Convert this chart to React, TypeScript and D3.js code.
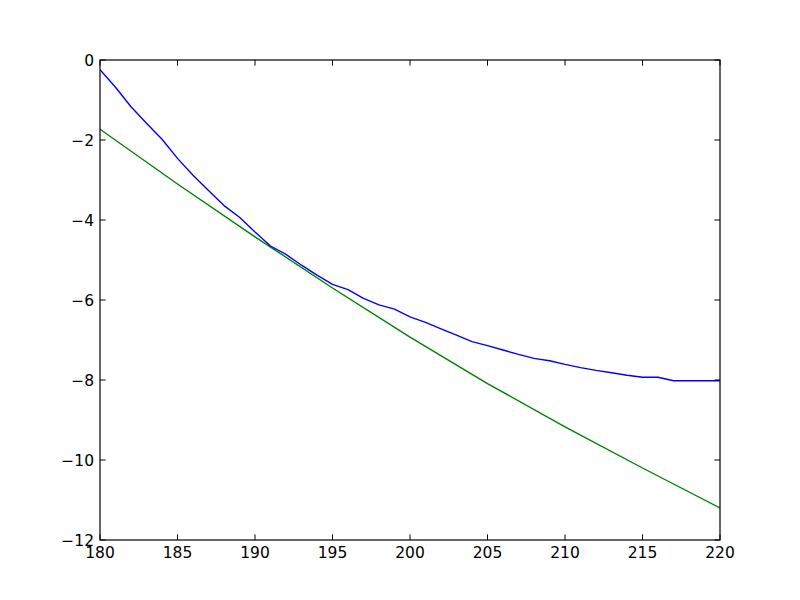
import React from "react";
import * as d3 from "d3";

const xValues = [180,181,182,183,184,185,186,187,188,189,190,191,192,193,194,195,196,197,198,199,200,201,202,203,204,205,206,207,208,209,210,211,212,213,214,215,216,217,218,219,220];
const blueValues = [-0.24,-0.68,-1.17,-1.58,-1.98,-2.46,-2.88,-3.26,-3.64,-3.93,-4.3,-4.65,-4.86,-5.13,-5.38,-5.61,-5.74,-5.96,-6.12,-6.23,-6.42,-6.56,-6.72,-6.88,-7.04,-7.14,-7.25,-7.36,-7.46,-7.52,-7.61,-7.69,-7.76,-7.82,-7.88,-7.93,-7.93,-8.02,-8.02,-8.02,-8.02];
const greenX = [180, 185, 190, 195, 200, 205, 210, 215, 220];
const greenValues = [-1.73, -3.1, -4.42, -5.7, -6.93, -8.09, -9.17, -10.2, -11.2];
const xTicks = [180,185,190,195,200,205,210,215,220];
const yTicks = [0,-2,-4,-6,-8,-10,-12];

export default function App() {
  const W = 800, H = 600;
  const left = 100, right = 720, top = 60, bottom = 540;
  const x = d3.scaleLinear().domain([180, 220]).range([left, right]);
  const y = d3.scaleLinear().domain([-12, 0]).range([bottom, top]);
  const line = d3.line<[number, number]>().x(d => x(d[0])).y(d => y(d[1]));
  const blue = line(xValues.map((v, i) => [v, blueValues[i]] as [number, number])) || "";
  const green = line(greenX.map((v, i) => [v, greenValues[i]] as [number, number])) || "";
  const fmt = (v: number) => (v < 0 ? "\u2212" + Math.abs(v) : String(v));
  const tl = 5.6;
  const font = "'DejaVu Sans', sans-serif";
  return (
    <svg width={W} height={H} style={{ position: "absolute", left: 0, top: 0, background: "#fff" }}>
      <rect x={0} y={0} width={W} height={H} fill="#fff" />
      <defs>
        <clipPath id="clip"><rect x={left} y={top} width={right - left} height={bottom - top} /></clipPath>
      </defs>
      <g clipPath="url(#clip)">
        <path d={green} fill="none" stroke="#008000" strokeWidth={1.4} strokeLinejoin="round" />
        <path d={blue} fill="none" stroke="#0000ff" strokeWidth={1.4} strokeLinejoin="round" />
      </g>
      {xTicks.map(t => (
        <g key={"x" + t}>
          <line x1={x(t)} x2={x(t)} y1={bottom} y2={bottom - tl} stroke="#000" strokeWidth={1} />
          <line x1={x(t)} x2={x(t)} y1={top} y2={top + tl} stroke="#000" strokeWidth={1} />
          <text x={x(t)} y={bottom + 6} dy="0.8em" textAnchor="middle" fontFamily={font} fontSize={15.5}>{fmt(t)}</text>
        </g>
      ))}
      {yTicks.map(t => (
        <g key={"y" + t}>
          <line x1={left} x2={left + tl} y1={y(t)} y2={y(t)} stroke="#000" strokeWidth={1} />
          <line x1={right} x2={right - tl} y1={y(t)} y2={y(t)} stroke="#000" strokeWidth={1} />
          <text x={left - 6} y={y(t)} dy="0.36em" textAnchor="end" fontFamily={font} fontSize={15.5}>{fmt(t)}</text>
        </g>
      ))}
      <rect x={left} y={top} width={right - left} height={bottom - top} fill="none" stroke="#000" strokeWidth={1.2} />
    </svg>
  );
}
